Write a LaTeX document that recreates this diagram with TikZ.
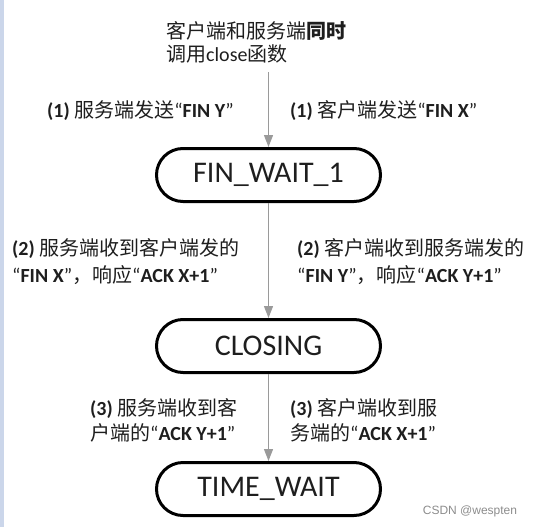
\documentclass[tikz,border=0pt]{standalone}
\usepackage{fontspec}
\setmainfont{Carlito}
\newfontfamily\cjk{Noto Sans CJK SC}
\newfontfamily\markfont{Liberation Sans}
\usepackage{tikz}
\usetikzlibrary{
  arrows.meta,
  positioning
}
\definecolor{sidebar}{HTML}{CBD6EA}
\definecolor{arrowgray}{HTML}{9A9A9A}
\definecolor{textdark}{HTML}{1E1E1E}
\definecolor{markgray}{HTML}{8C8C8C}
\newcommand{\zh}[1]{{\cjk #1}}
\newcommand{\kw}[1]{\textbf{#1}}
\tikzset{
  statebox/.style={
    rectangle, rounded corners=26.5pt,
    draw=black, line width=3pt,
    minimum width=224pt, minimum height=53pt,
    inner sep=0pt, text=textdark,
    font=\fontsize{30}{36}\selectfont,
  },
  steplabel/.style={
    anchor=west, align=left, inner sep=0pt,
    font=\fontsize{20}{27}\selectfont, text=textdark,
  },
  flow/.style={
    -{Triangle[length=12pt,width=9pt]},
    draw=arrowgray, line width=1.3pt,
  },
}

\begin{document}
\begin{tikzpicture}[x=1pt,y=-1pt]

  \useasboundingbox (0,0) rectangle (535,527);
  \fill[sidebar] (0,0) rectangle (4,527);

  % ─── Start: both sides call close ────────────────────────────────────
  \node[steplabel, font=\fontsize{20}{23}\selectfont] (top) at (166,42)
    {\zh{客户端和服务端}\zh{\bfseries 同时}\\\zh{调用}close\zh{函数}};
  \coordinate (start) at (268.5,72);

  % ─── States ──────────────────────────────────────────────────────────
  \node[statebox] (fin1) at (268.5,175) {FIN\_WAIT\_1};
  \node[statebox] (closing) at (268.5,346) {CLOSING};
  \node[statebox] (timewait) at (268.5,489) {TIME\_WAIT};

  % ─── Transitions ─────────────────────────────────────────────────────
  \draw[flow] (start) -- (fin1.north);
  \draw[flow] (fin1.south) -- (closing.north);
  \draw[flow] (closing.south) -- (timewait.north);

  % Step (1)
  \node[steplabel] (srv1) at (47,111)
    {\kw{(1)} \zh{服务端发送}“\kw{FIN Y}”};
  \node[steplabel] (cli1) at (290,111)
    {\kw{(1)} \zh{客户端发送}“\kw{FIN X}”};

  % Step (2)
  \node[steplabel] (srv2) at (12,262)
    {\kw{(2)} \zh{服务端收到客户端发的}\\“\kw{FIN X}”\zh{，响应}“\kw{ACK X+1}”};
  \node[steplabel] (cli2) at (297,262)
    {\kw{(2)} \zh{客户端收到服务端发的}\\“\kw{FIN Y}”\zh{，响应}“\kw{ACK Y+1}”};

  % Step (3)
  \node[steplabel, font=\fontsize{20}{25}\selectfont] (srv3) at (90,420)
    {\kw{(3)} \zh{服务端收到客}\\\zh{户端的}“\kw{ACK Y+1}”};
  \node[steplabel, font=\fontsize{20}{25}\selectfont] (cli3) at (290,420)
    {\kw{(3)} \zh{客户端收到服}\\\zh{务端的}“\kw{ACK X+1}”};

  \node[font=\markfont\fontsize{12}{14}\selectfont, text=markgray]
    (mark) at (470,511) {CSDN @wespten};

\end{tikzpicture}
\end{document}
